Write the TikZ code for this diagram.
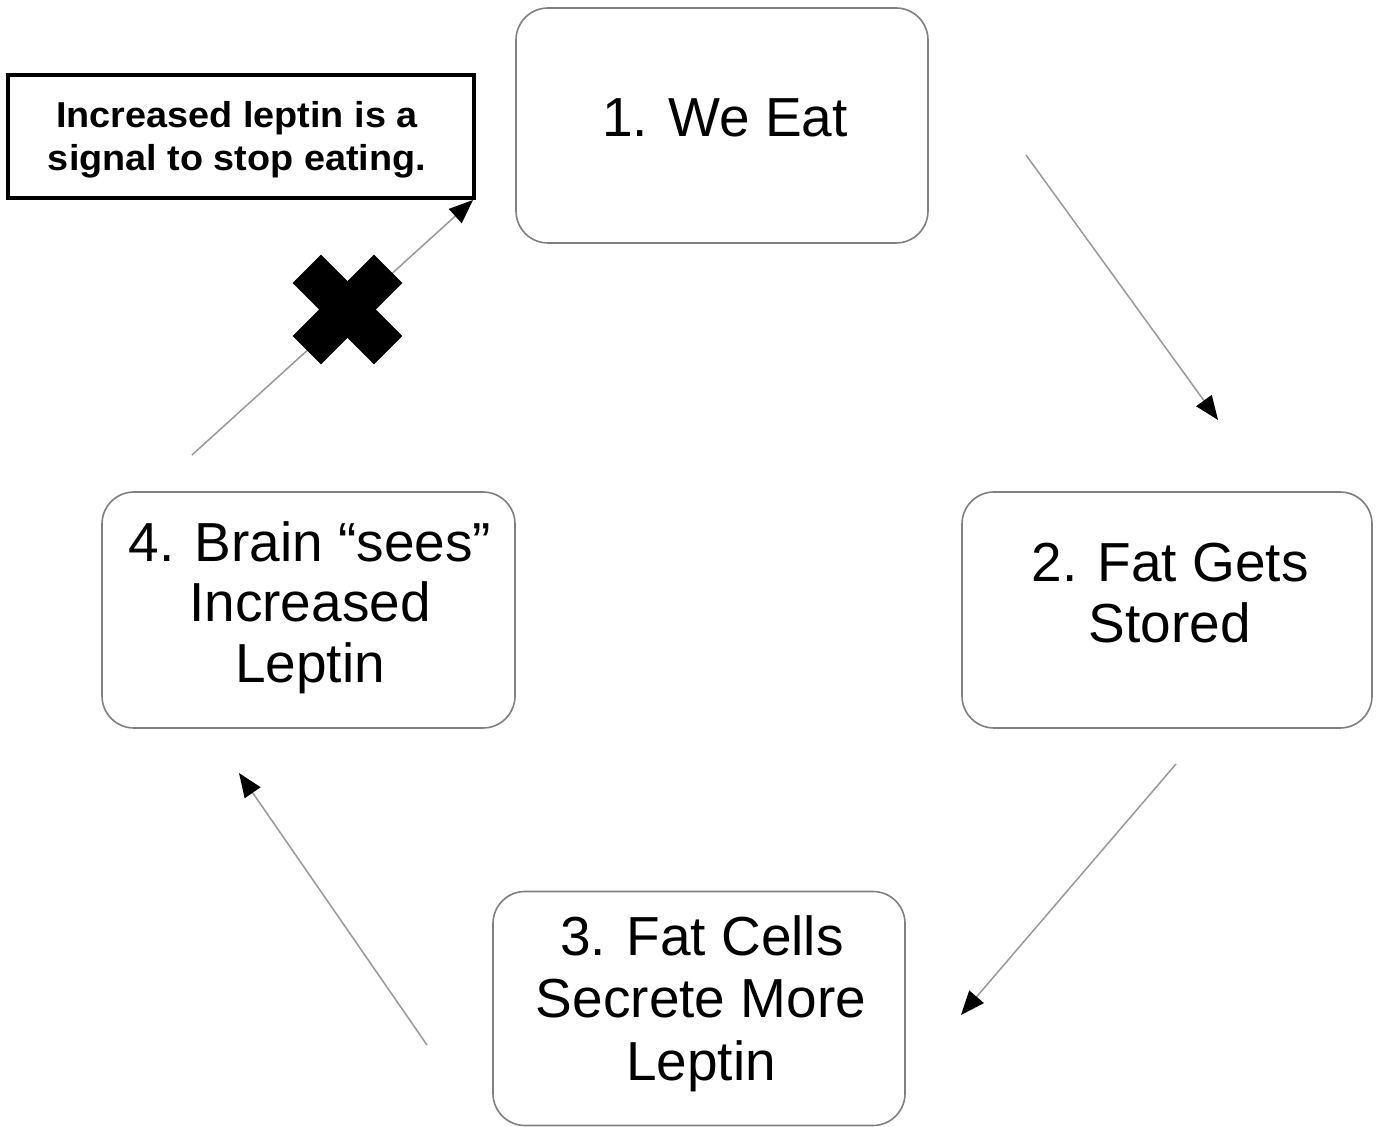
\documentclass[tikz,border=0pt]{standalone}
\usepackage{fontspec}
\setmainfont{Liberation Sans}
\newfontfamily\notefont[FakeStretch=1.05]{Liberation Sans}
\usetikzlibrary{arrows.meta}
\begin{document}
\begin{tikzpicture}[x=0.5pt,y=-0.5pt,
  stepbox/.style={draw=black!50, line width=0.8pt, rounded corners=16pt, fill=white, inner sep=0pt},
  txt/.style={anchor=base, inner sep=0pt, font=\fontsize{27.5pt}{30pt}\selectfont},
  notebox/.style={draw=black, line width=2pt, fill=white, inner sep=0pt},
  notetxt/.style={anchor=base, inner sep=0pt, font=\notefont\bfseries\fontsize{18pt}{21pt}\selectfont},
  flow/.style={draw=black!40, line width=0.75pt, -{Triangle[length=12pt,width=9.5pt,color=black]}},
  cross/.style={line width=20pt, line cap=butt}
]
\useasboundingbox (0,0) rectangle (1377,1127);
\fill[white] (0,0) rectangle (1377,1127);

% boxes
\node[stepbox, minimum width=206pt, minimum height=117.5pt] (b1) at (722,125.5) {};
\node[stepbox, minimum width=205pt, minimum height=118pt] (b2) at (1167,610) {};
\node[stepbox, minimum width=206pt, minimum height=117pt] (b3) at (699,1008.5) {};
\node[stepbox, minimum width=206.5pt, minimum height=118pt] (b4) at (308.5,610) {};
\node[notebox, minimum width=233pt, minimum height=61.5pt] (nb) at (241,136.5) {};

% texts
\node[txt] (t1) at (725,137) {1. We Eat};
\node[txt] (t2a) at (1170,582) {2. Fat Gets};
\node[txt] (t2b) at (1170,643) {Stored};
\node[txt] (t3a) at (702,956) {3. Fat Cells};
\node[txt] (t3b) at (701,1018) {Secrete More};
\node[txt] (t3c) at (701,1080) {Leptin};
\node[txt] (t4a) at (310,562) {4. Brain “sees”};
\node[txt] (t4b) at (310,622) {Increased};
\node[txt] (t4c) at (310,683) {Leptin};
\node[notetxt] (n1) at (237,128) {Increased leptin is a};
\node[notetxt] (n2) at (237,171) {signal to stop eating.};

% connector end points
\coordinate (a1s) at (1026,155);
\coordinate (a1e) at (1218,420);
\coordinate (a2s) at (1176,764);
\coordinate (a2e) at (961,1015);
\coordinate (a3s) at (427,1045);
\coordinate (a3e) at (239,773);
\coordinate (a4s) at (192,455);
\coordinate (a4e) at (473,200);

\draw[flow] (a1s) -- (a1e);
\draw[flow] (a2s) -- (a2e);
\draw[flow] (a3s) -- (a3e);
\draw[flow] (a4s) -- (a4e);

% blocking cross
\coordinate (xc) at (347.5,309.5);
\draw[cross] ([shift={(-40.7,-40.7)}]xc) -- ([shift={(40.7,40.7)}]xc);
\draw[cross] ([shift={(-40.7,40.7)}]xc) -- ([shift={(40.7,-40.7)}]xc);
\end{tikzpicture}
\end{document}
